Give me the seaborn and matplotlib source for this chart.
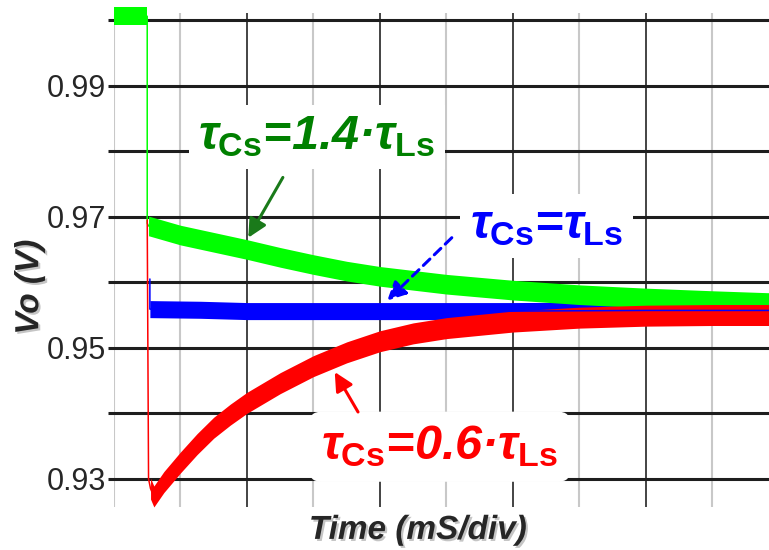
import numpy as np
import pandas as pd
import matplotlib
matplotlib.use("Agg")
import matplotlib.pyplot as plt
import matplotlib.patheffects as pe
import seaborn as sns

# time in scope divisions, output voltage in volts
t_before = [0.0, 0.5]
vo_before = [1.0006, 1.0006]

t_green = [0.52, 1.0, 1.5, 2.0, 2.5, 3.0, 3.5, 4.0, 5.0, 6.0, 7.0, 8.0, 9.0, 9.85]
vo_green = [0.9686, 0.9672, 0.9661, 0.9650, 0.9638, 0.9627, 0.9617, 0.9609,
            0.9597, 0.9588, 0.9581, 0.9576, 0.9572, 0.9569]

t_blue = [0.54, 1.3, 2.0, 4.0, 6.0, 8.0, 9.85]
vo_blue = [0.9559, 0.9558, 0.9556, 0.9556, 0.9556, 0.9557, 0.9557]

t_red = [0.55, 0.6, 0.75, 1.0, 1.25, 1.5, 1.75, 2.0, 2.5, 3.0, 3.5, 4.0, 4.5,
         5.0, 6.0, 7.0, 8.0, 9.0, 9.85]
vo_red = [0.9285, 0.9273, 0.9295, 0.9325, 0.9353, 0.9378, 0.9398, 0.9416, 0.9446,
          0.9472, 0.9493, 0.9510, 0.9522, 0.9530, 0.9540, 0.9546, 0.9549, 0.9550, 0.9550]

# thin vertical steps at the load change
t_step_green = [0.5, 0.5]
vo_step_green = [1.0006, 0.9690]
t_step_blue = [0.54, 0.54]
vo_step_blue = [0.9605, 0.9559]
t_step_red = [0.5, 0.52]
vo_step_red = [0.9695, 0.9300]

y_ticks = [0.93, 0.94, 0.95, 0.96, 0.97, 0.98, 0.99, 1.00]
y_ticklabels = ["0.93", "", "0.95", "", "0.97", "", "0.99", ""]
x_major = [2, 4, 6, 8]
x_minor = [0, 1, 3, 5, 7, 9]

labels = [r"$\tau_{\mathbf{Cs}}$=1.4·$\tau_{\mathbf{Ls}}$",
          r"$\tau_{\mathbf{Cs}}$=$\tau_{\mathbf{Ls}}$",
          r"$\tau_{\mathbf{Cs}}$=0.6·$\tau_{\mathbf{Ls}}$"]

sns.set_theme(style="white")
plt.rcParams["font.family"] = ["Liberation Sans", "DejaVu Sans"]
plt.rcParams["mathtext.fontset"] = "custom"
plt.rcParams["mathtext.it"] = "Liberation Sans:italic:bold"
plt.rcParams["mathtext.rm"] = "Liberation Sans:bold"
plt.rcParams["mathtext.bf"] = "Liberation Sans:bold"

fig = plt.figure(figsize=(7.69, 5.5), dpi=100)
ax = fig.add_axes([0.1482, 0.0782, 0.8518, 0.8982])

GREEN, BLUE, RED = "#00ff00", "#0000ff", "#ff0000"

# thin traces (with the step) underneath
sns.lineplot(x=t_step_blue + t_blue, y=vo_step_blue + vo_blue,
             color=BLUE, lw=1.1, ax=ax, sort=False, estimator=None)
sns.lineplot(x=t_before + t_step_green + t_green, y=vo_before + vo_step_green + vo_green,
             color=GREEN, lw=1.1, ax=ax, sort=False, estimator=None)
sns.lineplot(x=t_step_red + t_red, y=vo_step_red + vo_red,
             color=RED, lw=1.1, ax=ax, sort=False, estimator=None)

# switching ripple shown as a band of constant height around each trace
def band(t, v, half, color, clip=True):
    v = np.asarray(v)
    ax.fill_between(t, v - half, v + half, color=color, lw=0, clip_on=clip)

band(t_before, vo_before, 0.0014, GREEN, clip=False)
band(t_blue, vo_blue, 0.0013, BLUE)
band(t_green, vo_green, 0.0015, GREEN)
band(t_red, vo_red, 0.0016, RED)

ax.set_xlim(0, 9.85)
ax.set_ylim(0.9257, 1.0011)
ax.set_xticks(x_major)
ax.set_xticks(x_minor, minor=True)
ax.set_yticks(y_ticks)
ax.set_yticklabels(y_ticklabels)
ax.set_axisbelow(True)
ax.grid(which="minor", axis="x", color="#c8c8c8", lw=1.5)
ax.grid(which="major", axis="x", color="#111111", lw=1.1)
ax.grid(which="major", axis="y", color="#1e1e1e", lw=2.2)
ax.tick_params(axis="x", which="both", length=0, labelbottom=False)
ax.tick_params(axis="y", length=4.5, width=2.2, color="#1e1e1e", pad=1,
               labelsize=22, left=True)
for s in ax.spines.values():
    s.set_visible(False)

shadow = [pe.withSimplePatchShadow(offset=(1.5, -1.5), shadow_rgbFace="gray", alpha=0.45)]
ax.set_xlabel("Time (mS/div)", fontsize=24, fontweight="bold", fontstyle="italic",
              path_effects=shadow)
ax.xaxis.set_label_coords(0.464, -0.016)
ax.set_ylabel("Vo (V)", fontsize=24, fontweight="bold", fontstyle="italic",
              path_effects=shadow)
ax.yaxis.set_label_coords(-0.105, 0.445)

# labels with white boxes hiding the grid
ax.text(3.05, 0.9822, labels[0], color="#008000", fontsize=35, fontweight="bold",
        fontstyle="italic", ha="center", va="center",
        bbox=dict(boxstyle="square,pad=0.2", fc="white", ec="none"))
ax.text(6.50, 0.9686, labels[1], color=BLUE, fontsize=35, fontweight="bold",
        fontstyle="italic", ha="center", va="center",
        bbox=dict(boxstyle="square,pad=0.2", fc="white", ec="none"))
ax.text(4.90, 0.9349, labels[2], color=RED, fontsize=35, fontweight="bold",
        fontstyle="italic", ha="center", va="center",
        bbox=dict(boxstyle="round,pad=0.25", fc="white", ec="none"))

ax.annotate("", xy=(2.02, 0.9668), xytext=(2.54, 0.9760),
            arrowprops=dict(arrowstyle="-|>", color="#1a7a1a", lw=2.2,
                            mutation_scale=28, shrinkA=0, shrinkB=0))
ax.annotate("", xy=(4.11, 0.9572), xytext=(5.08, 0.9668),
            arrowprops=dict(arrowstyle="-|>", color=BLUE, lw=2.2,
                            linestyle=(0, (3, 2)), mutation_scale=28,
                            shrinkA=0, shrinkB=0))
ax.annotate("", xy=(3.32, 0.9463), xytext=(3.67, 0.9402),
            arrowprops=dict(arrowstyle="-|>", color=RED, lw=2.2,
                            mutation_scale=28, shrinkA=0, shrinkB=0))

fig.savefig("out.png", dpi=100)
